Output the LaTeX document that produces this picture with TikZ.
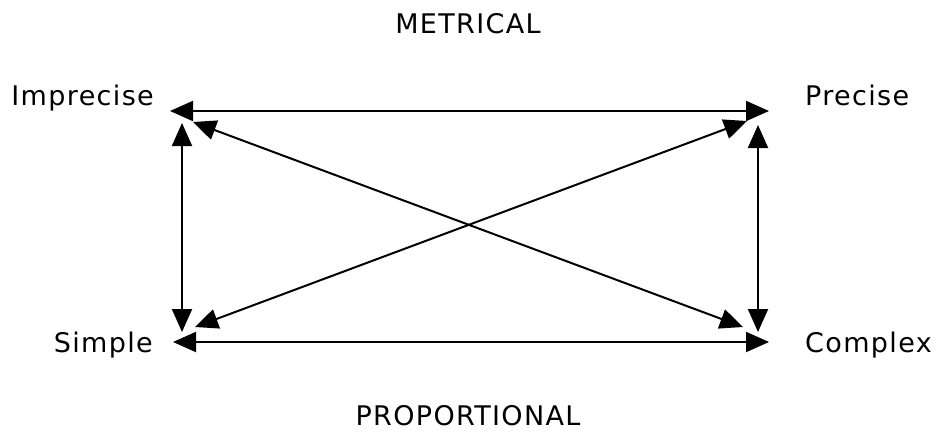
\documentclass[tikz,border=0pt]{standalone}
\usepackage{fontspec}
\setmainfont{DejaVu Sans}[LetterSpace=5]
\usetikzlibrary{arrows.meta}
\begin{document}
\begin{tikzpicture}[x=1pt,y=-1pt,
  lbl/.style={inner sep=0pt,font=\fontsize{27}{31}\selectfont},
  conn/.style={line width=2pt,{Triangle[length=23pt,width=20pt]}-{Triangle[length=23pt,width=20pt]}}]
\useasboundingbox (0,0) rectangle (939,432);
\node[lbl,anchor=base] (met) at (468,33) {METRICAL};
\node[lbl,anchor=base] (prop) at (468,425) {PROPORTIONAL};
\node[lbl,anchor=base east] (imp) at (154,105) {Imprecise};
\node[lbl,anchor=base west] (pre) at (805,105) {Precise};
\node[lbl,anchor=base east] (sim) at (153,352) {Simple};
\node[lbl,anchor=base west] (com) at (805,352) {Complex};
\coordinate (tl) at (170,111);
\coordinate (tr) at (769,111);
\coordinate (bl) at (173,342);
\coordinate (br) at (769,342);
\coordinate (lt) at (182,123);
\coordinate (lb) at (182,332);
\coordinate (rt) at (758,125);
\coordinate (rb) at (758,332);
\coordinate (d1a) at (193,122);
\coordinate (d1b) at (743,327);
\coordinate (d2a) at (195,327);
\coordinate (d2b) at (747,121);
\draw[conn] (tl) -- (tr);
\draw[conn] (bl) -- (br);
\draw[conn] (lt) -- (lb);
\draw[conn] (rt) -- (rb);
\draw[conn] (d1a) -- (d1b);
\draw[conn] (d2a) -- (d2b);
\end{tikzpicture}
\end{document}
